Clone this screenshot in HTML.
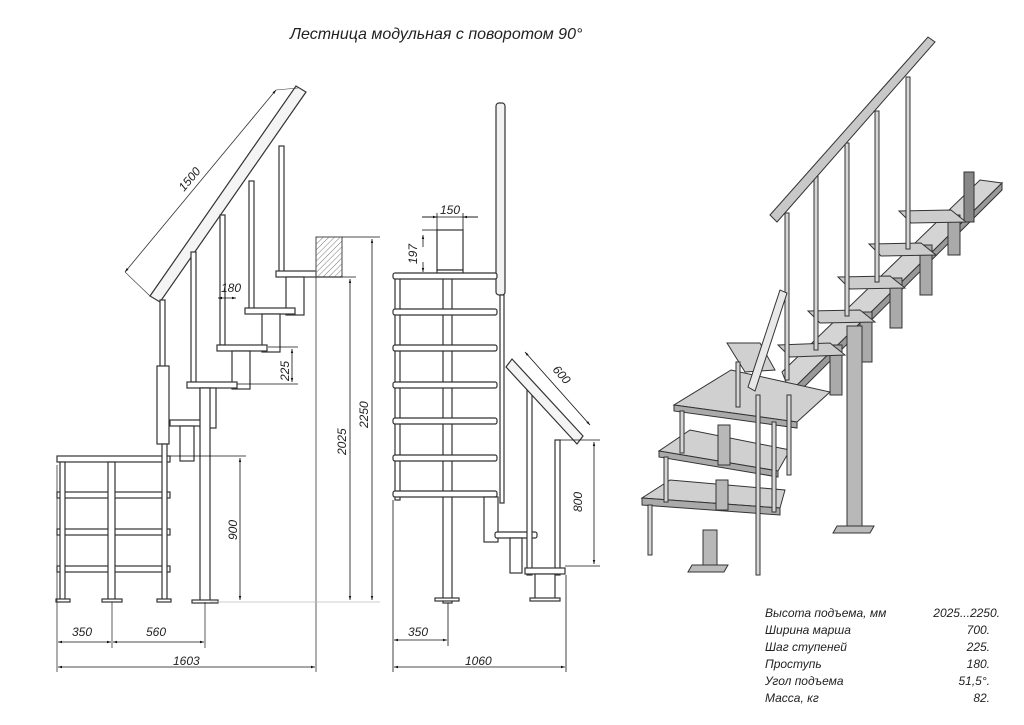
<!DOCTYPE html>
<html><head><meta charset="utf-8"><style>
html,body{margin:0;padding:0;background:#fff;}
svg{display:block;}
text{font-family:"Liberation Sans","DejaVu Sans",sans-serif;font-style:italic;fill:#222;}
</style></head><body>
<svg width="1024" height="725" viewBox="0 0 1024 725" xmlns="http://www.w3.org/2000/svg">
<defs>
<marker id="a" viewBox="0 0 10 10" refX="10" refY="5" markerWidth="7" markerHeight="5" orient="auto-start-reverse"><path d="M0,2 L10,5 L0,8z" fill="#111"/></marker>
<pattern id="h" width="4" height="4" patternUnits="userSpaceOnUse" patternTransform="rotate(45)"><line x1="0" y1="0" x2="0" y2="4" stroke="#777" stroke-width="1"/></pattern>
</defs>
<text x="290" y="39" font-size="16">Лестница модульная с поворотом 90°</text>

<g stroke="#333" stroke-width="1.2" fill="#fff">
<polygon points="150,296 296,86 306,92 160,302" fill="#f4f4f4"/>
<line x1="125" y1="272" x2="276" y2="90" stroke-width="0.8" marker-start="url(#a)" marker-end="url(#a)"/>
<line x1="125" y1="272" x2="150" y2="296" stroke-width="0.6"/>
<line x1="276" y1="90" x2="298" y2="88" stroke-width="0.6"/>
<text transform="translate(184,192) rotate(-50)" font-size="12" stroke="none">1500</text>
<rect x="160" y="300" width="5" height="70"/>
<rect x="157" y="366" width="12" height="78"/>
<rect x="191" y="252" width="5" height="130"/>
<rect x="220" y="215" width="5" height="130"/>
<rect x="249" y="181" width="5" height="128"/>
<rect x="279" y="146" width="5" height="126"/>
<rect x="276" y="271" width="40" height="6"/>
<rect x="286" y="277" width="18" height="38"/>
<rect x="245" y="308" width="50" height="6"/>
<rect x="262" y="314" width="18" height="38"/>
<rect x="217" y="345" width="50" height="6"/>
<rect x="232" y="351" width="18" height="38"/>
<rect x="187" y="382" width="50" height="6"/>
<rect x="200" y="388" width="16" height="40"/>
<rect x="170" y="420" width="38" height="6"/>
<rect x="180" y="426" width="14" height="35"/>
<rect x="200" y="388" width="10" height="214"/>
<rect x="192" y="600" width="26" height="3"/>
<rect x="57" y="456" width="113" height="6"/>
<rect x="57" y="492" width="113" height="6"/>
<rect x="57" y="529" width="113" height="6"/>
<rect x="57" y="566" width="113" height="6"/>
<rect x="60" y="462" width="5" height="138"/>
<rect x="108" y="462" width="7" height="138"/>
<rect x="162" y="444" width="5" height="156"/>
<rect x="56" y="599" width="14" height="3"/>
<rect x="102" y="599" width="20" height="3"/>
<rect x="157" y="599" width="14" height="3"/>
<rect x="316" y="237" width="26" height="40" fill="url(#h)" stroke="#666"/>
<line x1="316" y1="277" x2="316" y2="672" stroke-width="0.8"/>
<line x1="57" y1="465" x2="57" y2="672" stroke-width="0.8"/>
<line x1="112" y1="602" x2="112" y2="648" stroke-width="0.8"/>
<line x1="205" y1="602" x2="205" y2="648" stroke-width="0.8"/>
</g>
<g stroke="#111" stroke-width="0.8" fill="none">
<line x1="342" y1="237" x2="380" y2="237"/>
<line x1="316" y1="277" x2="356" y2="277"/>
<line x1="210" y1="602" x2="380" y2="602" stroke="#bbb"/>
<line x1="350" y1="279" x2="350" y2="600" marker-start="url(#a)" marker-end="url(#a)"/>
<line x1="372" y1="239" x2="372" y2="600" marker-start="url(#a)" marker-end="url(#a)"/>
<line x1="170" y1="456" x2="246" y2="456"/>
<line x1="240" y1="458" x2="240" y2="600" marker-start="url(#a)" marker-end="url(#a)"/>
<line x1="268" y1="347" x2="298" y2="347"/><line x1="237" y1="384" x2="298" y2="384"/>
<line x1="292" y1="349" x2="292" y2="382" marker-start="url(#a)" marker-end="url(#a)"/>
<line x1="218" y1="298" x2="236" y2="298" marker-start="url(#a)" marker-end="url(#a)"/>
<line x1="58" y1="642" x2="111" y2="642" marker-start="url(#a)" marker-end="url(#a)"/>
<line x1="113" y1="642" x2="204" y2="642" marker-start="url(#a)" marker-end="url(#a)"/>
<line x1="58" y1="667" x2="315" y2="667" marker-start="url(#a)" marker-end="url(#a)"/>
</g>
<g font-size="12">
<text x="221" y="292">180</text>
<text transform="translate(289,381) rotate(-90)">225</text>
<text transform="translate(237,540) rotate(-90)">900</text>
<text transform="translate(346,455) rotate(-90)">2025</text>
<text transform="translate(368,428) rotate(-90)">2250</text>
<text x="72" y="636">350</text>
<text x="146" y="636">560</text>
<text x="173" y="665">1603</text>
</g>

<g stroke="#333" stroke-width="1.2" fill="#fff">
<rect x="496" y="103" width="9" height="192" rx="3" fill="#f2f2f2"/>
<rect x="500" y="295" width="4" height="208"/>
<rect x="443" y="278" width="9" height="325"/>
<rect x="435" y="598" width="24" height="3"/>
<rect x="437" y="230" width="26" height="40"/>
<rect x="437" y="270" width="26" height="8"/>
<rect x="395" y="278" width="5" height="222"/>
<rect x="393" y="273" width="104" height="6" rx="2"/>
<rect x="393" y="309" width="104" height="6" rx="2"/>
<rect x="393" y="345" width="104" height="6" rx="2"/>
<rect x="393" y="382" width="104" height="6" rx="2"/>
<rect x="393" y="418" width="104" height="6" rx="2"/>
<rect x="393" y="455" width="104" height="6" rx="2"/>
<rect x="393" y="491" width="104" height="6" rx="2"/>
<rect x="484" y="497" width="14" height="45"/>
<rect x="495" y="532" width="42" height="6" rx="2"/>
<rect x="510" y="538" width="12" height="35"/>
<rect x="527" y="385" width="5" height="190"/>
<rect x="555" y="440" width="5" height="135"/>
<rect x="525" y="568" width="40" height="6"/>
<rect x="535" y="574" width="20" height="26"/>
<rect x="530" y="598" width="30" height="3"/>
<polygon points="506,367 512,359 583,436 577,444" fill="#f4f4f4"/>
</g>
<g stroke="#111" stroke-width="0.8" fill="none">
<line x1="422" y1="217" x2="437" y2="217" marker-end="url(#a)"/><line x1="478" y1="217" x2="463" y2="217" marker-end="url(#a)"/>
<line x1="422" y1="217" x2="478" y2="217"/>
<line x1="437" y1="213" x2="437" y2="230"/><line x1="463" y1="213" x2="463" y2="230"/>
<line x1="422" y1="230" x2="437" y2="230"/>
<line x1="423" y1="235" x2="423" y2="247" marker-start="url(#a)"/>
<line x1="423" y1="262" x2="423" y2="272" marker-end="url(#a)"/>
<line x1="525" y1="352" x2="590" y2="425" marker-start="url(#a)" marker-end="url(#a)"/>
<line x1="560" y1="440" x2="600" y2="440"/><line x1="565" y1="566" x2="600" y2="566"/>
<line x1="594" y1="442" x2="594" y2="564" marker-start="url(#a)" marker-end="url(#a)"/>
<line x1="393" y1="500" x2="393" y2="672"/><line x1="566" y1="575" x2="566" y2="672"/>
<line x1="448" y1="603" x2="448" y2="646"/>
<line x1="394" y1="640" x2="447" y2="640" marker-start="url(#a)" marker-end="url(#a)"/>
<line x1="394" y1="667" x2="565" y2="667" marker-start="url(#a)" marker-end="url(#a)"/>
</g>
<g font-size="12">
<text x="440" y="214">150</text>
<text transform="translate(417,264) rotate(-90)">197</text>
<text transform="translate(552,370) rotate(48)">600</text>
<text transform="translate(582,512) rotate(-90)">800</text>
<text x="408" y="636">350</text>
<text x="465" y="665">1060</text>
</g>

<!-- 3D VIEW -->
<g stroke="#333" stroke-width="1" fill="#d6d6d6">
<!-- long landing plank -->
<polygon points="782,372 980,180 1002,183 790,392" fill="#d4d4d4"/>
<polygon points="790,392 1002,183 1002,190 792,399" fill="#999"/>
<rect x="964" y="172" width="10" height="50" fill="#888"/>
<!-- stringers under small steps -->
<rect x="830" y="345" width="12" height="50" fill="#aaa"/>
<rect x="860" y="312" width="12" height="50" fill="#aaa"/>
<rect x="890" y="278" width="12" height="50" fill="#aaa"/>
<rect x="920" y="245" width="12" height="50" fill="#aaa"/>
<rect x="948" y="215" width="12" height="40" fill="#aaa"/>
<!-- small steps -->
<polygon points="778,345 830,343 845,355 790,357" fill="#ccc"/>
<polygon points="808,311 860,310 875,322 820,323" fill="#ccc"/>
<polygon points="838,277 890,276 905,288 850,289" fill="#ccc"/>
<polygon points="869,244 921,243 936,255 881,256" fill="#ccc"/>
<polygon points="899,211 951,210 966,222 911,223" fill="#ccc"/>
<!-- lower flight -->
<polygon points="727,343 760,343 775,370 745,372" fill="#d0d0d0"/>
<polygon points="731,370 674,405 797,422 830,392" fill="#d0d0d0"/>
<polygon points="674,405 797,422 797,428 674,411" fill="#aaa"/>
<polygon points="690,430 659,451 778,471 790,450" fill="#d0d0d0"/>
<polygon points="659,451 778,471 778,477 659,457" fill="#aaa"/>
<polygon points="670,480 642,498 780,508 785,490" fill="#d0d0d0"/>
<polygon points="642,498 780,508 780,515 642,505" fill="#aaa"/>
<rect x="847" y="326" width="15" height="200" fill="#b8b8b8"/>
<polygon points="837,526 874,526 870,533 833,533" fill="#bbb"/>
<rect x="703" y="530" width="14" height="35" fill="#b8b8b8"/>
<polygon points="692,565 728,565 724,572 688,572" fill="#bbb"/>
<rect x="718" y="425" width="12" height="40" fill="#b8b8b8"/>
<rect x="716" y="480" width="12" height="30" fill="#b8b8b8"/>
<rect x="648" y="505" width="4" height="50"/>
<rect x="664" y="457" width="4" height="45"/>
<rect x="680" y="411" width="4" height="42"/>
<rect x="736" y="362" width="4" height="45"/>
<rect x="756" y="395" width="4" height="180"/>
<rect x="772" y="422" width="4" height="90"/>
<rect x="787" y="395" width="4" height="80"/>
<rect x="785" y="213" width="4" height="167"/>
<rect x="814" y="176" width="4" height="174"/>
<rect x="845" y="143" width="4" height="173"/>
<rect x="875" y="111" width="4" height="171"/>
<rect x="906" y="77" width="4" height="172"/>
<polygon points="770,215 928,37 935,42 777,222" fill="#c8c8c8"/>
<polygon points="748,387 780,290 787,293 755,391" fill="#e8e8e8"/>
</g>

<g font-size="12">
<text x="765" y="617">Высота подъема, мм</text><text x="1000" y="617" text-anchor="end">2025...2250.</text>
<text x="765" y="634">Ширина марша</text><text x="990" y="634" text-anchor="end">700.</text>
<text x="765" y="651">Шаг ступеней</text><text x="990" y="651" text-anchor="end">225.</text>
<text x="765" y="668">Проступь</text><text x="990" y="668" text-anchor="end">180.</text>
<text x="765" y="685">Угол подъема</text><text x="990" y="685" text-anchor="end">51,5°.</text>
<text x="765" y="702">Масса, кг</text><text x="990" y="702" text-anchor="end">82.</text>
</g>
</svg>
</body></html>
